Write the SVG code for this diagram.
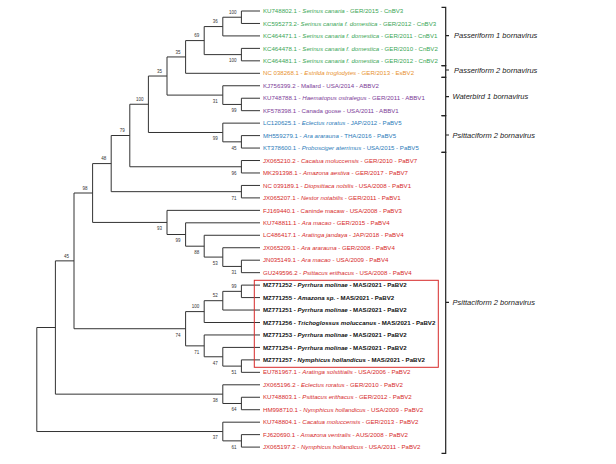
<svg xmlns="http://www.w3.org/2000/svg" width="616" height="464" viewBox="0 0 616 464">
<style>
.br{fill:none;stroke:#333;stroke-width:1}
.bs{font-family:"Liberation Sans",Arial,sans-serif;font-size:4.5px;fill:#333;text-anchor:end}
.lf{font-family:"Liberation Sans",Arial,sans-serif;font-size:6.1px}
.it{font-style:italic}
.g{fill:#3aa655}.o{fill:#e8912d}.p{fill:#7d3c98}.b{fill:#2b7bb9}.r{fill:#d62a2a}.k{fill:#111;font-weight:bold;font-size:6.1px}
.bk{fill:none;stroke:#222;stroke-width:1.2}
.cl{font-family:"Liberation Sans",Arial,sans-serif;font-size:7.5px;font-style:italic;fill:#222}
</style>
<rect width="616" height="464" fill="#fff"/>
<g id="connectors">
<path class="br" d="M260 11H241.4V23.46H260"/>
<path class="br" d="M241.4 17.23H222.8V35.92H260"/>
<path class="br" d="M260 48.38H241.4V60.84H260"/>
<path class="br" d="M222.8 26.575H204.2V54.61H241.4"/>
<path class="br" d="M204.2 40.59H185.6V73.3H260"/>
<path class="br" d="M260 98.22H241.4V110.68H260"/>
<path class="br" d="M260 85.76H222.8V104.45H241.4"/>
<path class="br" d="M185.6 56.95H167V95.1H222.8"/>
<path class="br" d="M260 135.6H241.4V148.06H260"/>
<path class="br" d="M260 123.14H222.8V141.83H241.4"/>
<path class="br" d="M167 76.03H148.4V132.49H222.8"/>
<path class="br" d="M260 160.52H241.4V172.98H260"/>
<path class="br" d="M148.4 104.26H129.8V166.75H241.4"/>
<path class="br" d="M260 185.44H241.4V197.9H260"/>
<path class="br" d="M129.8 135.5H111.2V191.67H241.4"/>
<path class="br" d="M260 260.2H241.4V272.66H260"/>
<path class="br" d="M260 247.74H222.8V266.43H241.4"/>
<path class="br" d="M260 235.28H204.2V257.09H222.8"/>
<path class="br" d="M260 222.82H185.6V246.19H204.2"/>
<path class="br" d="M260 210.36H167V234.5H185.6"/>
<path class="br" d="M111.2 163.59H92.6V222.43H167"/>
<path class="br" d="M260 285.12H241.4V297.58H260"/>
<path class="br" d="M241.4 291.35H222.8V310.04H260"/>
<path class="br" d="M222.8 300.7H204.2V322.5H260"/>
<path class="br" d="M260 359.88H241.4V372.34H260"/>
<path class="br" d="M260 347.42H222.8V366.11H241.4"/>
<path class="br" d="M260 334.96H204.2V356.77H222.8"/>
<path class="br" d="M204.2 311.6H185.6V345.87H204.2"/>
<path class="br" d="M92.6 193.01H74V328.73H185.6"/>
<path class="br" d="M260 397.26H241.4V409.72H260"/>
<path class="br" d="M260 384.8H222.8V403.49H241.4"/>
<path class="br" d="M74 260.87H55.4V394.15H222.8"/>
<path class="br" d="M260 434.64H241.4V447.1H260"/>
<path class="br" d="M260 422.18H222.8V440.87H241.4"/>
<path class="br" d="M55.4 327.51H36.8V431.53H222.8"/>
</g>
<g id="node-n12"><text class="bs" x="236.4" y="13.9">100</text></g>
<g id="node-n36"><text class="bs" x="217.8" y="23.3">36</text></g>
<g id="node-n45"><text class="bs" x="236.4" y="62.4">100</text></g>
<g id="node-n69"><text class="bs" x="199.2" y="37.3">69</text></g>
<g id="node-n35a"><text class="bs" x="180.6" y="53.6">35</text></g>
<g id="node-n35b"><text class="bs" x="162" y="72.7">35</text></g>
<g id="node-nwb"><text class="bs" x="217.8" y="102.9">31</text></g>
<g id="node-n89"><text class="bs" x="236.4" y="112.3">99</text></g>
<g id="node-n100"><text class="bs" x="143.4" y="101">100</text></g>
<g id="node-np5"><text class="bs" x="217.8" y="140.3">99</text></g>
<g id="node-n1112"><text class="bs" x="236.4" y="149.6">45</text></g>
<g id="node-n79"><text class="bs" x="124.8" y="132.2">79</text></g>
<g id="node-np7"><text class="bs" x="236.4" y="174.6">96</text></g>
<g id="node-n48"><text class="bs" x="106.2" y="160.3">48</text></g>
<g id="node-np1"><text class="bs" x="236.4" y="199.5">71</text></g>
<g id="node-n98"><text class="bs" x="87.6" y="189.7">98</text></g>
<g id="node-ne"><text class="bs" x="162" y="230.2">93</text></g>
<g id="node-nd"><text class="bs" x="180.6" y="242.3">99</text></g>
<g id="node-nc"><text class="bs" x="199.2" y="254">88</text></g>
<g id="node-nb"><text class="bs" x="217.8" y="264.9">53</text></g>
<g id="node-na"><text class="bs" x="236.4" y="274.2">31</text></g>
<g id="node-n45b"><text class="bs" x="69" y="257.6">45</text></g>
<g id="node-n2324"><text class="bs" x="236.4" y="288">99</text></g>
<g id="node-n52"><text class="bs" x="217.8" y="297.4">52</text></g>
<g id="node-n100b"><text class="bs" x="199.2" y="308.3">100</text></g>
<g id="node-n74"><text class="bs" x="180.6" y="336.5">74</text></g>
<g id="node-n71"><text class="bs" x="199.2" y="353.7">71</text></g>
<g id="node-n47"><text class="bs" x="217.8" y="364.6">47</text></g>
<g id="node-n51"><text class="bs" x="236.4" y="373.9">51</text></g>
<g id="node-n38"><text class="bs" x="217.8" y="402">38</text></g>
<g id="node-n3233"><text class="bs" x="236.4" y="411.3">64</text></g>
<g id="node-n37"><text class="bs" x="217.8" y="439.3">37</text></g>
<g id="node-n3536"><text class="bs" x="236.4" y="448.7">61</text></g>
<g id="highlight-box"><rect x="254.3" y="280.3" width="184" height="87" fill="none" stroke="#d62a2a" stroke-width="1"/></g>
<g id="leaf-KU748802"><text class="lf g" x="263" y="13.1">KU748802.1 - <tspan class="it">Serinus canaria</tspan> - GER/2015 - CnBV3</text></g>
<g id="leaf-KC595273"><text class="lf g" x="263" y="25.6">KC595273.2- <tspan class="it">Serinus canaria f. domestica</tspan> - GER/2012 - CnBV3</text></g>
<g id="leaf-KC464471"><text class="lf g" x="263" y="38">KC464471.1 - <tspan class="it">Serinus canaria f. domestica</tspan> - GER/2011 - CnBV1</text></g>
<g id="leaf-KC464478"><text class="lf g" x="263" y="50.5">KC464478.1 - <tspan class="it">Serinus canaria f. domestica</tspan> - GER/2010 - CnBV2</text></g>
<g id="leaf-KC464481"><text class="lf g" x="263" y="62.9">KC464481.1 - <tspan class="it">Serinus canaria f. domestica</tspan> - GER/2012 - CnBV2</text></g>
<g id="leaf-NC038268"><text class="lf o" x="263" y="75.4">NC 038268.1 - <tspan class="it">Estrilda troglodytes</tspan> - GER/2013 - EsBV2</text></g>
<g id="leaf-KJ756399"><text class="lf p" x="263" y="87.9">KJ756399.2 - Mallard - USA/2014 - ABBV2</text></g>
<g id="leaf-KU748788"><text class="lf p" x="263" y="100.3">KU748788.1 - <tspan class="it">Haematopus ostralegus</tspan> - GER/2011 - ABBV1</text></g>
<g id="leaf-KF578398"><text class="lf p" x="263" y="112.8">KF578398.1 - Canada goose - USA/2011 - ABBV1</text></g>
<g id="leaf-LC120625"><text class="lf b" x="263" y="125.2">LC120625.1 - <tspan class="it">Eclectus roratus</tspan> - JAP/2012 - PaBV5</text></g>
<g id="leaf-MH559279"><text class="lf b" x="263" y="137.7">MH559279.1 - <tspan class="it">Ara ararauna</tspan> - THA/2016 - PaBV5</text></g>
<g id="leaf-KT378600"><text class="lf b" x="263" y="150.2">KT378600.1 - <tspan class="it">Probosciger aterrimus</tspan> - USA/2015 - PaBV5</text></g>
<g id="leaf-JX065210"><text class="lf r" x="263" y="162.6">JX065210.2 - <tspan class="it">Cacatua moluccensis</tspan> - GER/2010 - PaBV7</text></g>
<g id="leaf-MK291398"><text class="lf r" x="263" y="175.1">MK291398.1 - <tspan class="it">Amazona aestiva</tspan> - GER/2017 - PaBV7</text></g>
<g id="leaf-NC039189"><text class="lf r" x="263" y="187.5">NC 039189.1 - <tspan class="it">Diopsittaca nobilis</tspan> - USA/2008 - PaBV1</text></g>
<g id="leaf-JX065207"><text class="lf r" x="263" y="200">JX065207.1 - <tspan class="it">Nestor notabilis</tspan> - GER/2011 - PaBV1</text></g>
<g id="leaf-FJ169440"><text class="lf r" x="263" y="212.5">FJ169440.1 - Caninde macaw - USA/2008 - PaBV3</text></g>
<g id="leaf-KU748811"><text class="lf r" x="263" y="224.9">KU748811.1 - <tspan class="it">Ara macao</tspan> - GER/2015 - PaBV4</text></g>
<g id="leaf-LC486417"><text class="lf r" x="263" y="237.4">LC486417.1 - <tspan class="it">Aratinga jandaya</tspan> - JAP/2018 - PaBV4</text></g>
<g id="leaf-JX065209"><text class="lf r" x="263" y="249.8">JX065209.1 - <tspan class="it">Ara ararauna</tspan> - GER/2008 - PaBV4</text></g>
<g id="leaf-JN035149"><text class="lf r" x="263" y="262.3">JN035149.1 - <tspan class="it">Ara macao</tspan> - USA/2009 - PaBV4</text></g>
<g id="leaf-GU249596"><text class="lf r" x="263" y="274.8">GU249596.2 - <tspan class="it">Psittacus erithacus</tspan> - USA/2008 - PaBV4</text></g>
<g id="leaf-MZ771252"><text class="lf k" x="263" y="287.2">MZ771252 - <tspan class="it">Pyrrhura molinae</tspan> - MAS/2021 - PaBV2</text></g>
<g id="leaf-MZ771255"><text class="lf k" x="263" y="299.7">MZ771255 - <tspan class="it">Amazona sp.</tspan> - MAS/2021 - PaBV2</text></g>
<g id="leaf-MZ771251"><text class="lf k" x="263" y="312.1">MZ771251 - <tspan class="it">Pyrrhura molinae</tspan> - MAS/2021 - PaBV2</text></g>
<g id="leaf-MZ771256"><text class="lf k" x="263" y="324.6">MZ771256 - <tspan class="it">Trichoglossus moluccanus</tspan> - MAS/2021 - PaBV2</text></g>
<g id="leaf-MZ771253"><text class="lf k" x="263" y="337.1">MZ771253 - <tspan class="it">Pyrrhura molinae</tspan> - MAS/2021 - PaBV2</text></g>
<g id="leaf-MZ771254"><text class="lf k" x="263" y="349.5">MZ771254 - <tspan class="it">Pyrrhura molinae</tspan> - MAS/2021 - PaBV2</text></g>
<g id="leaf-MZ771257"><text class="lf k" x="263" y="362">MZ771257 - <tspan class="it">Nymphicus hollandicus</tspan> - MAS/2021 - PaBV2</text></g>
<g id="leaf-EU781967"><text class="lf r" x="263" y="374.4">EU781967.1 - <tspan class="it">Aratinga solstitialis</tspan> - USA/2006 - PaBV2</text></g>
<g id="leaf-JX065196"><text class="lf r" x="263" y="386.9">JX065196.2 - <tspan class="it">Eclectus roratus</tspan> - GER/2010 - PaBV2</text></g>
<g id="leaf-KU748803"><text class="lf r" x="263" y="399.4">KU748803.1 - <tspan class="it">Psittacus erithacus</tspan> - GER/2012 - PaBV2</text></g>
<g id="leaf-HM998710"><text class="lf r" x="263" y="411.8">HM998710.1 - <tspan class="it">Nymphicus hollandicus</tspan> - USA/2009 - PaBV2</text></g>
<g id="leaf-KU748804"><text class="lf r" x="263" y="424.3">KU748804.1 - <tspan class="it">Cacatua moluccensis</tspan> - GER/2013 - PaBV2</text></g>
<g id="leaf-FJ620690"><text class="lf r" x="263" y="436.7">FJ620690.1 - <tspan class="it">Amazona ventralis</tspan> - AUS/2008 - PaBV2</text></g>
<g id="leaf-JX065197"><text class="lf r" x="263" y="449.2">JX065197.2 - <tspan class="it">Nymphicus hollandicus</tspan> - USA/2011 - PaBV2</text></g>
<g id="clade-passeriform1"><path class="bk" d="M441.5 7.3H445.7V65.7H441.5M445.7 35.7H449"/><text class="cl" x="454" y="38.4">Passeriform 1 bornavirus</text></g>
<g id="clade-passeriform2"><path class="bk" d="M441.5 65.7H445.7V77.3H441.5M445.7 70H449"/><text class="cl" x="454" y="72.7">Passeriform 2 bornavirus</text></g>
<g id="clade-waterbird1"><path class="bk" d="M441.5 77.3H445.7V115.7H441.5M445.7 96.7H449"/><text class="cl" x="452.5" y="99.4">Waterbird 1 bornavirus</text></g>
<g id="clade-psittaciform2a"><path class="bk" d="M441.5 115.7H445.7V152.3H441.5M445.7 135H449"/><text class="cl" x="452.5" y="137.7">Psittaciform 2 bornavirus</text></g>
<g id="clade-psittaciform2b"><path class="bk" d="M441.5 152.3H445.7V453.3H441.5M445.7 302.3H449"/><text class="cl" x="452.5" y="305">Psittaciform 2 bornavirus</text></g>
</svg>
